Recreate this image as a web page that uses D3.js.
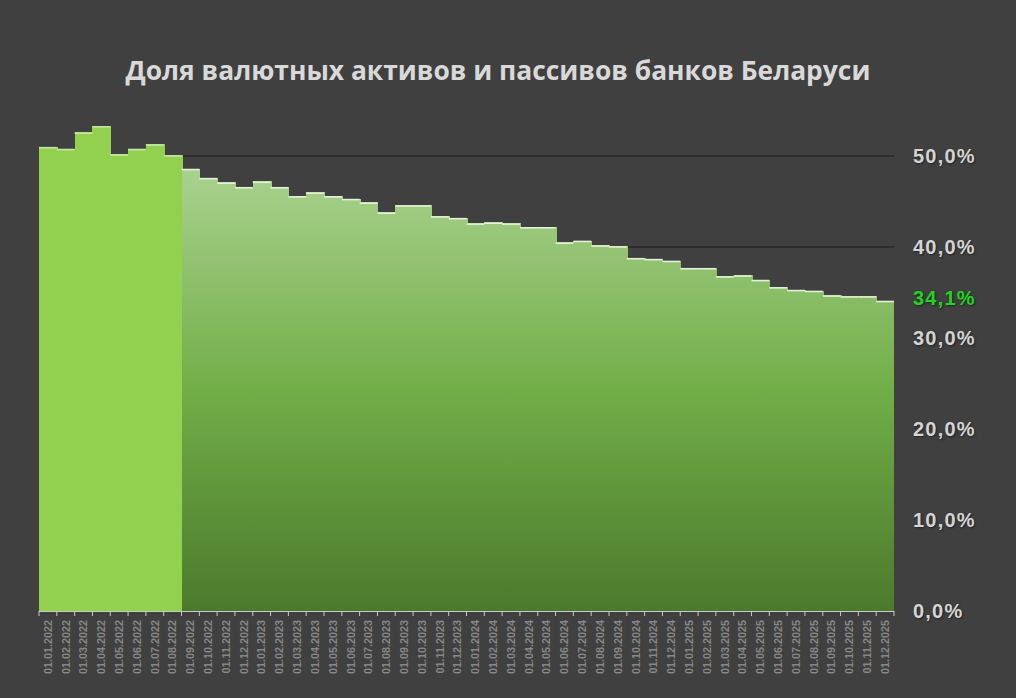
<!DOCTYPE html>
<html><head><meta charset="utf-8">
<script src="https://cdn.jsdelivr.net/npm/d3@7"></script>
<style>
html,body{margin:0;padding:0;background:#404040;}
svg{display:block;}
</style></head>
<body>
<svg id="chart" width="1016" height="698"></svg>
<script>
const categories = ["01.01.2022","01.02.2022","01.03.2022","01.04.2022","01.05.2022","01.06.2022","01.07.2022","01.08.2022","01.09.2022","01.10.2022","01.11.2022","01.12.2022",
"01.01.2023","01.02.2023","01.03.2023","01.04.2023","01.05.2023","01.06.2023","01.07.2023","01.08.2023","01.09.2023","01.10.2023","01.11.2023","01.12.2023",
"01.01.2024","01.02.2024","01.03.2024","01.04.2024","01.05.2024","01.06.2024","01.07.2024","01.08.2024","01.09.2024","01.10.2024","01.11.2024","01.12.2024",
"01.01.2025","01.02.2025","01.03.2025","01.04.2025","01.05.2025","01.06.2025","01.07.2025","01.08.2025","01.09.2025","01.10.2025","01.11.2025","01.12.2025"];
const values = [51.0,50.8,52.6,53.3,50.2,50.8,51.3,50.1,48.6,47.6,47.1,46.6,
47.2,46.6,45.6,46.0,45.6,45.3,44.9,43.8,44.6,44.6,43.4,43.2,
42.6,42.7,42.6,42.2,42.2,40.5,40.7,40.2,40.1,38.8,38.7,38.5,
37.7,37.7,36.8,36.9,36.4,35.6,35.3,35.2,34.7,34.6,34.6,34.1];
const highlightCount = 8;
const yTicks = [0,10,20,30,40,50];
const yTickLabels = ["0,0%","10,0%","20,0%","30,0%","40,0%","50,0%"];
const lastLabel = "34,1%";
const title = "Доля валютных активов и пассивов банков Беларуси";

(function(){
const svg = d3.select("#chart");
const mLeft = 39, mRight = 894, mTop = 156, mBottom = 611;
const x = d3.scaleBand().domain(categories).range([mLeft, mRight]).padding(0);
const y = d3.scaleLinear().domain([0, 50]).range([mBottom, mTop]);

const defs = svg.append("defs");
const grad = defs.append("linearGradient").attr("id","g").attr("gradientUnits","userSpaceOnUse")
  .attr("x1",0).attr("x2",0).attr("y1",y(49)).attr("y2",y(0));
grad.append("stop").attr("offset",0).attr("stop-color","#AAD28F");
grad.append("stop").attr("offset",0.5).attr("stop-color","#72AE48");
grad.append("stop").attr("offset",1).attr("stop-color","#4B7A2C");

svg.append("rect").attr("width",1016).attr("height",698).attr("fill","#404040");

svg.append("text").attr("x",498).attr("y",80).attr("text-anchor","middle")
  .attr("font-family","'Open Sans', 'DejaVu Sans', sans-serif").attr("font-weight","bold")
  .attr("font-size",26.4).attr("fill","#d9d9d9").text(title);

// gridlines
svg.append("g").selectAll("line").data(yTicks.filter(d=>d>0)).join("line")
  .attr("x1",mLeft).attr("x2",mRight).attr("y1",d=>y(d)).attr("y2",d=>y(d))
  .attr("stroke","#1a1a1a").attr("stroke-width",1);

// bars
svg.append("g").attr("shape-rendering","crispEdges").selectAll("rect").data(values).join("rect")
  .attr("x",(d,i)=>x(categories[i]))
  .attr("width",(d,i)=> i===values.length-1 ? x.bandwidth() : x.bandwidth()+1)
  .attr("y",d=>y(d))
  .attr("height",d=>mBottom-y(d))
  .attr("fill",(d,i)=> i<highlightCount ? "#92D050" : "url(#g)");

// top highlights
svg.append("g").selectAll("line").data(values).join("line")
  .attr("x1",(d,i)=>x(categories[i])).attr("x2",(d,i)=>x(categories[i])+x.bandwidth())
  .attr("y1",d=>y(d)+0.8).attr("y2",d=>y(d)+0.8)
  .attr("stroke",(d,i)=> i<highlightCount ? "#c8e6a6" : "#e4f1d8").attr("stroke-width",1.6);

// x axis
const xAxisG = svg.append("g");
xAxisG.append("line").attr("x1",mLeft).attr("x2",mRight).attr("y1",mBottom+0.5).attr("y2",mBottom+0.5)
  .attr("stroke","#c8c8c8").attr("stroke-width",1);
const bounds = categories.map(c=>x(c)).concat([mRight]);
xAxisG.selectAll("line.tick").data(bounds).join("line").attr("class","tick")
  .attr("x1",d=>d).attr("x2",d=>d).attr("y1",mBottom).attr("y2",mBottom+5)
  .attr("stroke","#c8c8c8").attr("stroke-width",1);
xAxisG.selectAll("text").data(categories).join("text")
  .attr("transform",d=>`translate(${x(d)+x.bandwidth()/2+3.8},${mBottom+9}) rotate(-90)`)
  .attr("text-anchor","end")
  .attr("font-family","'Liberation Sans', Arial, sans-serif").attr("font-weight","bold")
  .attr("font-size",10.8).attr("fill","#878787").text(d=>d);

// y labels
const yl = svg.append("g");
yl.selectAll("text").data(yTicks).join("text")
  .attr("x",913).attr("y",d=>y(d)).attr("dy","0.36em")
  .attr("font-family","'Liberation Sans', Arial, sans-serif").attr("font-weight","bold")
  .attr("font-size",20).attr("letter-spacing",1.2).attr("fill","#d4d4d4")
  .style("text-shadow","1px 1px 2px #222")
  .text((d,i)=>yTickLabels[i]);
yl.append("text").attr("x",913).attr("y",y(values[values.length-1])-3).attr("dy","0.36em")
  .attr("font-family","'Liberation Sans', Arial, sans-serif").attr("font-weight","bold")
  .attr("font-size",20).attr("letter-spacing",1.2).attr("fill","#20d420")
  .style("text-shadow","1px 1px 2px #222")
  .text(lastLabel);
})();
</script>
</body></html>
